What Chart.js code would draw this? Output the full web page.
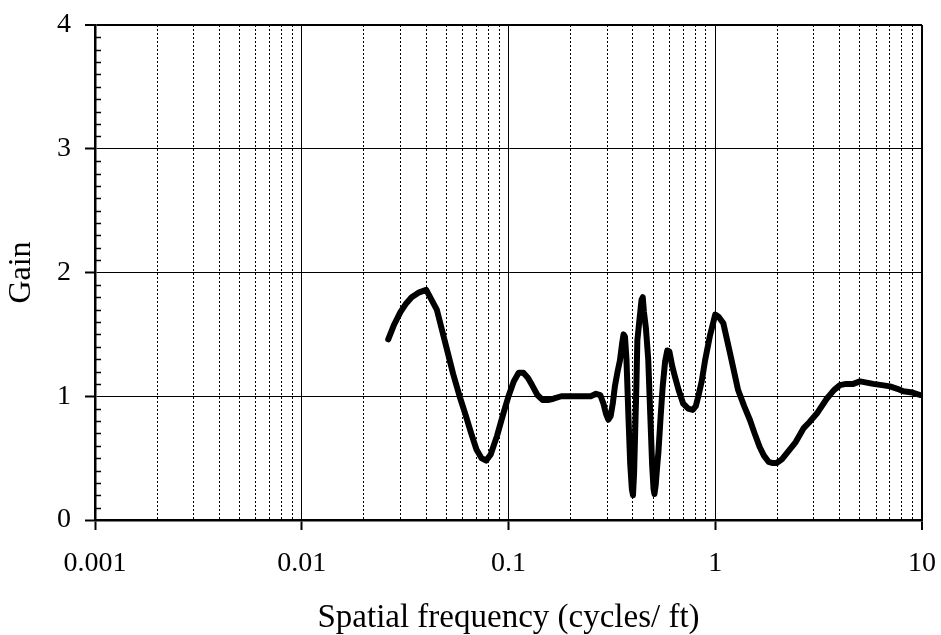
<!DOCTYPE html>
<html>
<head>
<meta charset="utf-8">
<script src="https://cdn.jsdelivr.net/npm/chart.js@4.4.1/dist/chart.umd.min.js"></script>
<style>
  html, body { margin: 0; background: #fff; }
  canvas { display: block; }
</style>
</head>
<body>
<canvas id="grafico" width="941" height="635"></canvas>
<script>
// spatial frequency (cycles/ft) and gain
const freq = [
  0.0262, 0.028, 0.030, 0.032, 0.034, 0.037, 0.040, 0.045, 0.050, 0.054,
  0.058, 0.062, 0.066, 0.070, 0.074, 0.078, 0.082, 0.088, 0.094, 0.100,
  0.106, 0.112, 0.118, 0.124, 0.130, 0.138, 0.146, 0.155, 0.165, 0.18,
  0.20, 0.22, 0.25, 0.265, 0.278, 0.288, 0.296, 0.304, 0.312, 0.320,
  0.327, 0.337, 0.346, 0.354, 0.360, 0.366, 0.372, 0.380, 0.388, 0.395,
  0.400, 0.405, 0.410, 0.415, 0.420, 0.430, 0.440, 0.446, 0.452, 0.462,
  0.474, 0.485, 0.495, 0.503, 0.508, 0.515, 0.523, 0.531, 0.545, 0.557,
  0.572, 0.586, 0.600, 0.620, 0.638, 0.665, 0.700, 0.740, 0.778, 0.805,
  0.828, 0.860, 0.893, 0.940, 1.000, 1.040, 1.094, 1.178, 1.29, 1.38,
  1.47, 1.55, 1.64, 1.72, 1.81, 1.90, 1.98, 2.10, 2.22, 2.45,
  2.67, 2.85, 3.10, 3.46, 3.75, 4.01, 4.30, 4.65, 5.01, 5.40,
  5.81, 6.40, 7.00, 7.60, 8.12, 9.00, 9.78
];
const gain = [
  1.46, 1.58, 1.68, 1.75, 1.80, 1.84, 1.86, 1.70, 1.40, 1.18,
  1.00, 0.85, 0.70, 0.57, 0.50, 0.48, 0.53, 0.68, 0.85, 1.00,
  1.12, 1.19, 1.19, 1.15, 1.09, 1.01, 0.97, 0.97, 0.98, 1.00,
  1.00, 1.00, 1.00, 1.02, 1.01, 0.94, 0.86, 0.81, 0.84, 0.95,
  1.08, 1.20, 1.29, 1.42, 1.50, 1.48, 1.30, 0.85, 0.45, 0.25,
  0.20, 0.38, 0.72, 1.05, 1.45, 1.62, 1.78, 1.80, 1.68, 1.55,
  1.30, 0.85, 0.45, 0.25, 0.21, 0.28, 0.42, 0.55, 0.85, 1.08,
  1.28, 1.37, 1.36, 1.24, 1.16, 1.05, 0.94, 0.90, 0.89, 0.92,
  1.00, 1.12, 1.29, 1.48, 1.66, 1.64, 1.59, 1.35, 1.05, 0.92,
  0.81, 0.70, 0.59, 0.52, 0.47, 0.46, 0.46, 0.49, 0.54, 0.63,
  0.74, 0.79, 0.86, 0.98, 1.05, 1.09, 1.10, 1.10, 1.12, 1.11,
  1.10, 1.09, 1.08, 1.06, 1.04, 1.03, 1.01
];

// axis ticks
const decadas = [0.001, 0.01, 0.1, 1, 10];
const multiplos = [1, 2, 3, 4, 5, 6, 7, 8, 9];
const gainTicks = [0, 1, 2, 3, 4];
const gainMinor = [0.1, 0.2, 0.3, 0.4, 0.5, 0.6, 0.7, 0.8, 0.9];

const freqTicks = [];
decadas.forEach(d => multiplos.forEach(m => { if(d * m <= 10.0001){ freqTicks.push(+(d * m).toPrecision(3)); } }));
const isMajor = (v) => decadas.some(d => Math.abs(v / d - 1) < 1e-6);

const serif = "'Liberation Serif', 'Times New Roman', serif";

// little inside ticks on the gain axis
const ticksMenores = {
  id: "ticksMenores",
  afterDraw(chart){
    const { ctx, scales: { y } } = chart;
    ctx.save();
    ctx.strokeStyle = "#000";
    ctx.lineWidth = 1.5;
    gainTicks.slice(0, -1).forEach(base => gainMinor.forEach(f => {
      const py = Math.round(y.getPixelForValue(base + f)) + 0.5;
      ctx.beginPath();
      ctx.moveTo(y.right, py);
      ctx.lineTo(y.right + 6, py);
      ctx.stroke();
    }));
    ctx.restore();
  }
};

new Chart(document.getElementById("grafico"), {
  type: "line",
  data: {
    datasets: [{
      data: freq.map((f, i) => ({ x: f, y: gain[i] })),
      borderColor: "#000",
      borderWidth: 6,
      borderJoinStyle: "round",
      borderCapStyle: "round",
      pointRadius: 0,
      tension: 0,
      fill: false
    }]
  },
  options: {
    responsive: false,
    animation: false,
    layout: { padding: { left: 0, right: 19, top: 25, bottom: 0 } },
    plugins: { legend: { display: false }, tooltip: { enabled: false } },
    scales: {
      x: {
        type: "logarithmic",
        min: 0.001,
        max: 10,
        afterBuildTicks: (s) => { s.ticks = freqTicks.map(v => ({ value: v, major: isMajor(v) })); },
        afterFit: (s) => { s.height = 115; s.paddingLeft = 0; s.paddingRight = 0; },
        ticks: {
          autoSkip: false,
          maxRotation: 0,
          padding: 17,
          color: "#000",
          font: { family: serif, size: 28 },
          callback: (v) => isMajor(v) ? String(+(+v).toPrecision(3)) : ""
        },
        grid: {
          color: "#000",
          lineWidth: (c) => (c.tick && Math.abs(c.tick.value - 10) < 1e-6) ? 2 : 1,
          tickLength: 10,
          tickWidth: 2,
          tickColor: (c) => (c.tick && isMajor(c.tick.value)) ? "#000" : "rgba(0,0,0,0)"
        },
        border: {
          color: "#000",
          width: 2.5,
          dash: (c) => (c.tick && !isMajor(c.tick.value)) ? [2, 2] : []
        },
        title: {
          display: true,
          text: "Spatial frequency (cycles/ ft)",
          color: "#000",
          font: { family: serif, size: 33, lineHeight: 1 },
          padding: { top: 0, bottom: 0 }
        }
      },
      y: {
        min: 0,
        max: 4,
        afterBuildTicks: (s) => { s.ticks = gainTicks.map(v => ({ value: v })); },
        afterFit: (s) => { s.width = 95; s.paddingTop = 0; s.paddingBottom = 0; },
        ticks: {
          padding: 14,
          color: "#000",
          font: { family: serif, size: 28 }
        },
        grid: {
          color: "#000",
          lineWidth: (c) => (c.tick && c.tick.value === 4) ? 2 : 1,
          tickLength: 10,
          tickWidth: 2,
          tickColor: "#000"
        },
        border: { color: "#000", width: 2.5 },
        title: {
          display: true,
          text: "Gain",
          color: "#000",
          font: { family: serif, size: 32, lineHeight: 1 },
          padding: { top: 6, bottom: 0 }
        }
      }
    }
  },
  plugins: [ticksMenores]
});
</script>
</body>
</html>
